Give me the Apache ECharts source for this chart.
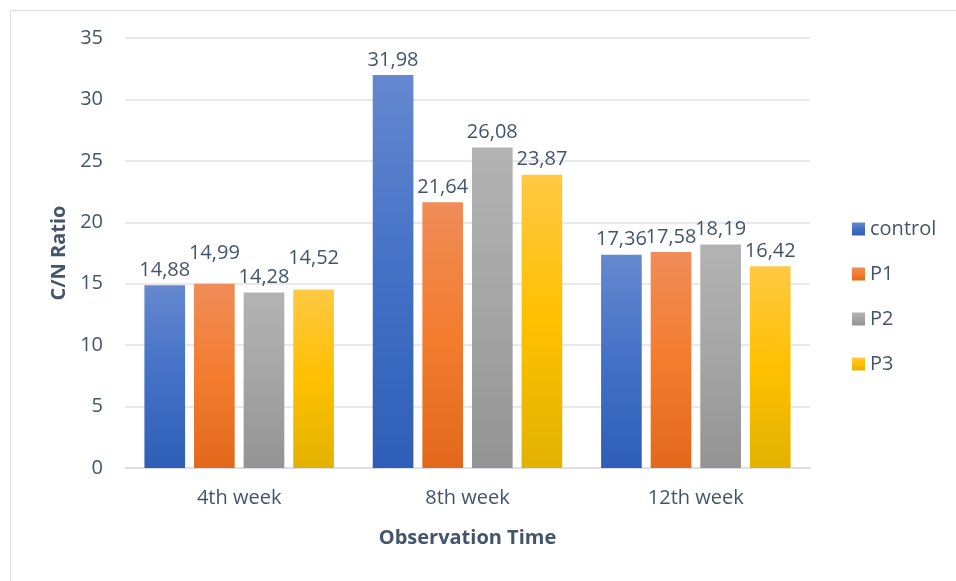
<!DOCTYPE html>
<html>
<head>
<meta charset="utf-8">
<script src="https://cdn.jsdelivr.net/npm/echarts@6/dist/echarts.min.js"></script>
<style>
html,body{margin:0;padding:0;background:#fff;}
#chart{width:956px;height:581px;}
</style>
</head>
<body>
<div id="chart"></div>
<script>
const categories = ['4th week', '8th week', '12th week'];
const seriesNames = ['control', 'P1', 'P2', 'P3'];
const control = [14.88, 31.98, 17.36];
const p1 = [14.99, 21.64, 17.58];
const p2 = [14.28, 26.08, 18.19];
const p3 = [14.52, 23.87, 16.42];
const yTicks = [0, 5, 10, 15, 20, 25, 30, 35];

const values = [control, p1, p2, p3];
const gradients = [
  ['#6588d0', '#4371c6', '#2f5eb8'],
  ['#f08c58', '#f37c2e', '#e2691b'],
  ['#b3b3b3', '#a5a5a5', '#939393'],
  ['#ffc843', '#ffc000', '#e2b200']
];
// label vertical lift (px) per series / category, mimicking Excel overlap avoidance
const labelLift = [[0,0,0],[16,0,0],[0,0,0],[16,0,0]];
const textColor = '#44546a';
const font = 'Open Sans';

const chart = echarts.init(document.getElementById('chart'));
const series = seriesNames.map((name, si) => ({
  name,
  type: 'bar',
  barGap: '22%',
  barCategoryGap: '17%',
  itemStyle: {
    color: new echarts.graphic.LinearGradient(0, 0, 0, 1, [
      {offset: 0, color: gradients[si][0]},
      {offset: 0.5, color: gradients[si][1]},
      {offset: 1, color: gradients[si][2]}
    ])
  },
  label: {
    show: true, position: 'top', distance: 5,
    color: textColor, fontSize: 20, fontFamily: font,
    formatter: p => p.value.toFixed(2).replace('.', ',')
  },
  data: values[si].map((v, ci) => ({
    value: v,
    label: {offset: [0, -labelLift[si][ci]]}
  }))
}));

chart.setOption({
  animation: false,
  backgroundColor: '#fff',
  textStyle: {fontFamily: font},
  graphic: [{
    type: 'rect', left: 8, top: 8,
    shape: {width: 1200, height: 1200},
    style: {fill: 'none', stroke: '#d9dde3', lineWidth: 1}
  }],
  grid: {left: 125, right: 146, top: 38, bottom: 113},
  legend: {
    orient: 'vertical', left: 847, top: 214, padding: 5,
    itemWidth: 13, itemHeight: 13, itemGap: 25,
    icon: 'rect',
    textStyle: {color: textColor, fontSize: 20, lineHeight: 20, fontFamily: font},
    data: seriesNames
  },
  xAxis: {
    type: 'category', data: categories,
    name: 'Observation Time', nameLocation: 'middle', nameGap: 60,
    nameTextStyle: {color: textColor, fontSize: 20, fontWeight: 'bold', fontFamily: font},
    axisLine: {lineStyle: {color: '#d9dde3', width: 1.5}},
    axisTick: {show: false},
    axisLabel: {color: textColor, fontSize: 20, margin: 20, fontFamily: font}
  },
  yAxis: {
    type: 'value', min: 0, max: 35, interval: 5,
    name: 'C/N Ratio', nameLocation: 'middle', nameGap: 56,
    nameTextStyle: {color: textColor, fontSize: 20, fontWeight: 'bold', fontFamily: font},
    axisLine: {show: false}, axisTick: {show: false},
    axisLabel: {color: textColor, fontSize: 20, margin: 22, fontFamily: font,
      formatter: v => yTicks.includes(v) ? String(v) : ''},
    splitLine: {lineStyle: {color: '#dfe2e6', width: 1.5}}
  },
  series
});
</script>
</body>
</html>
